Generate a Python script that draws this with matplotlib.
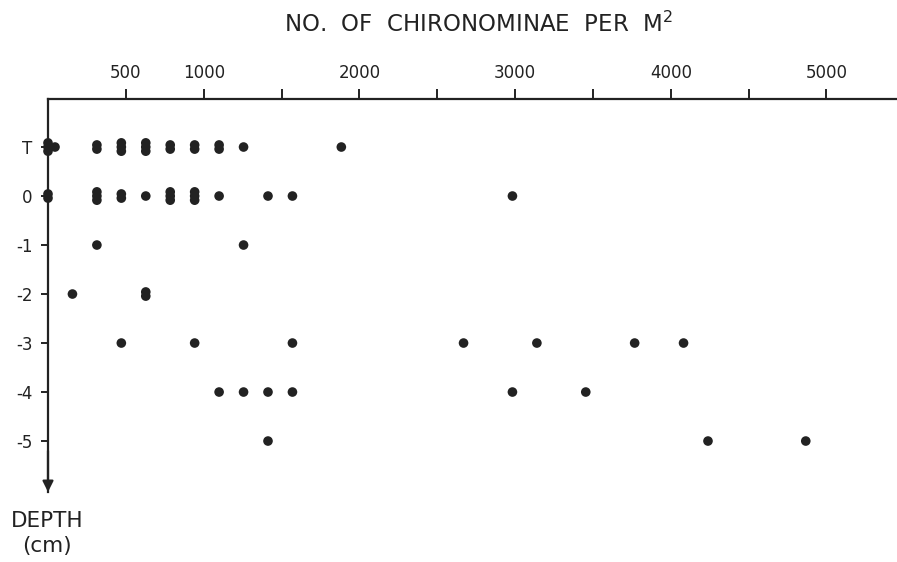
import matplotlib.pyplot as plt
import numpy as np

# depth rows (T = surface / top layer)
depth_pos = [1, 0, -1, -2, -3, -4, -5]
depth_labels = ["T", "0", "-1", "-2", "-3", "-4", "-5"]

# density per m2 for each sample, n = how many samples share that value
dens_T = [0, 45, 314, 471, 628, 785, 942, 1099, 1256, 1884]
n_T    = [3, 1, 2, 3, 3, 2, 2, 2, 1, 1]
dens_0 = [0, 314, 471, 628, 785, 942, 1099, 1413, 1570, 2983]
n_0    = [2, 3, 2, 1, 3, 3, 1, 1, 1, 1]
dens_m1 = [314, 1256]
n_m1    = [1, 1]
dens_m2 = [157, 628]
n_m2    = [1, 2]
dens_m3 = [471, 942, 1570, 2669, 3140, 3768, 4082]
n_m3    = [1, 1, 1, 1, 1, 1, 1]
dens_m4 = [1099, 1256, 1413, 1570, 2983, 3454]
n_m4    = [1, 1, 1, 1, 1, 1]
dens_m5 = [1413, 4239, 4867]
n_m5    = [1, 1, 1]

rows = [(1, dens_T, n_T), (0, dens_0, n_0), (-1, dens_m1, n_m1),
        (-2, dens_m2, n_m2), (-3, dens_m3, n_m3), (-4, dens_m4, n_m4),
        (-5, dens_m5, n_m5)]

INK = "#222222"
plt.rcParams["font.family"] = "DejaVu Sans"

fig = plt.figure(figsize=(8.97, 5.62), dpi=100)
ax = fig.add_axes([48 / 897, 1 - 492 / 562, 1 - 48 / 897, (492 - 99) / 562])

step = 0.085  # vertical spacing of stacked dots (data units)
for y, xs, ns in rows:
    for xv, n in zip(xs, ns):
        offs = (np.arange(n) - (n - 1) / 2) * step
        ax.scatter([xv] * n, y + offs, s=48, color=INK, zorder=3,
                   edgecolors="none", clip_on=False)

ax.set_xlim(0, 5453)
ax.set_ylim(-6.04, 1.98)

for s in ["bottom", "right"]:
    ax.spines[s].set_visible(False)
for s in ["top", "left"]:
    ax.spines[s].set_linewidth(1.6)
    ax.spines[s].set_color(INK)

ax.xaxis.tick_top()
xt = np.arange(500, 5001, 500)
ax.set_xticks(xt)
ax.set_xticklabels(["500", "1000", "", "2000", "", "3000", "", "4000", "", "5000"],
                   fontsize=12, color=INK)
ax.tick_params(axis="x", direction="out", length=7, width=1.4, color=INK,
               pad=5)

ax.set_yticks(depth_pos)
ax.set_yticklabels(depth_labels, fontsize=12, color=INK)
ax.tick_params(axis="y", direction="out", length=5, width=1.4, color=INK,
               pad=6)

# downward arrow on the depth axis
ax.annotate("", xy=(0, -6.04), xytext=(0, -5.2),
            arrowprops=dict(arrowstyle="-|>", color=INK, lw=1.6,
                            mutation_scale=16, shrinkA=0, shrinkB=0),
            annotation_clip=False)

fig.text(478 / 897, 1 - 24 / 562, "NO.  OF  CHIRONOMINAE  PER  M$^2$",
         ha="center", va="center", fontsize=16.5, color=INK)
fig.text(47 / 897, 1 - 521 / 562, "DEPTH", ha="center", va="center",
         fontsize=15.5, color=INK)
fig.text(47 / 897, 1 - 546 / 562, "(cm)", ha="center", va="center",
         fontsize=15.5, color=INK)

fig.savefig("out.png", dpi=100)
